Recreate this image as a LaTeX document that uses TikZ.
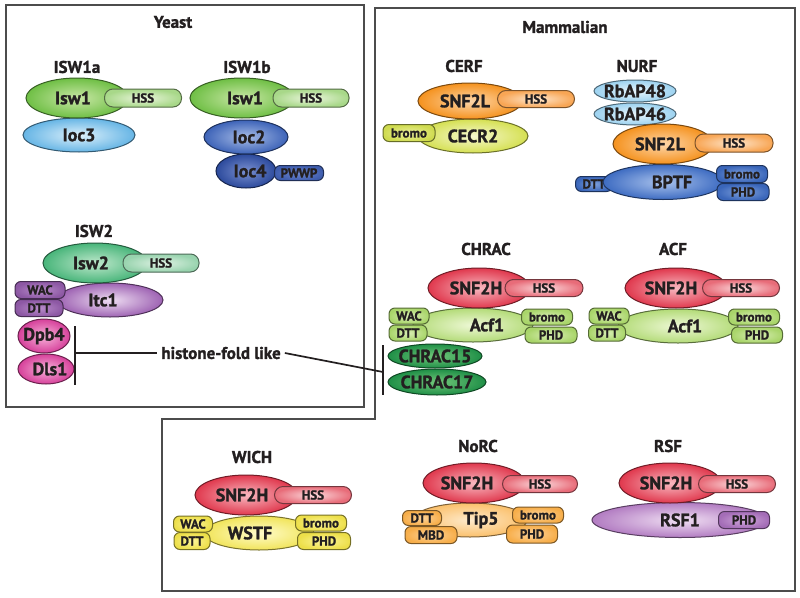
\documentclass[tikz,border=0pt]{standalone}
\usepackage{fontspec}
\setmainfont{PT Sans}[BoldFont={PT Sans Bold}, BoldFeatures={FakeBold=1.4}]
\usetikzlibrary{shapes.geometric}
\newcommand\ft[1]{\fontsize{#1}{#1}\selectfont\bfseries}
\definecolor{txt}{HTML}{231F20}
\definecolor{grnI}{HTML}{C9E7A6}\definecolor{grnO}{HTML}{6FBF45}
\definecolor{hsgI}{HTML}{EAF5DC}\definecolor{hsgO}{HTML}{A8D889}
\definecolor{ltbI}{HTML}{DDF0FB}\definecolor{ltbO}{HTML}{66B5E5}
\definecolor{blbI}{HTML}{A7BCE6}\definecolor{blbO}{HTML}{3D63B8}
\definecolor{bldI}{HTML}{7A90D0}\definecolor{bldO}{HTML}{2C4A9C}
\definecolor{pwI}{HTML}{6D86CC}\definecolor{pwO}{HTML}{3F5DAE}
\definecolor{tlI}{HTML}{BFE8CC}\definecolor{tlO}{HTML}{48B57A}
\definecolor{hstI}{HTML}{DFF2E4}\definecolor{hstO}{HTML}{98D3AE}
\definecolor{puI}{HTML}{EEDDF2}\definecolor{puO}{HTML}{9E63B3}
\definecolor{pudI}{HTML}{B98CCB}\definecolor{pudO}{HTML}{8D58A4}
\definecolor{mgI}{HTML}{F7B3DA}\definecolor{mgO}{HTML}{D6409A}
\definecolor{orI}{HTML}{FDD6AA}\definecolor{orO}{HTML}{F5921E}
\definecolor{hsoI}{HTML}{FEE6CC}\definecolor{hsoO}{HTML}{F8A655}
\definecolor{ygI}{HTML}{F6F8CF}\definecolor{ygO}{HTML}{D5E052}
\definecolor{ygdI}{HTML}{EEF2A0}\definecolor{ygdO}{HTML}{CFDB4F}
\definecolor{rbI}{HTML}{E8F5FC}\definecolor{rbO}{HTML}{9CD2F0}
\definecolor{bpI}{HTML}{A9C2EC}\definecolor{bpO}{HTML}{3E6CC2}
\definecolor{bpdI}{HTML}{7EA0DC}\definecolor{bpdO}{HTML}{3A66BA}
\definecolor{rdI}{HTML}{F8B9C1}\definecolor{rdO}{HTML}{E0384D}
\definecolor{hsrI}{HTML}{FBD9DC}\definecolor{hsrO}{HTML}{E86C79}
\definecolor{lgI}{HTML}{EEF8D6}\definecolor{lgO}{HTML}{B3DB78}
\definecolor{lgdI}{HTML}{D8EEB4}\definecolor{lgdO}{HTML}{A9D56A}
\definecolor{dgI}{HTML}{72C77A}\definecolor{dgO}{HTML}{1F8F47}
\definecolor{yeI}{HTML}{FFFCCB}\definecolor{yeO}{HTML}{F1E45A}
\definecolor{yedI}{HTML}{FCF59A}\definecolor{yedO}{HTML}{EDDF4A}
\definecolor{otI}{HTML}{FEEACB}\definecolor{otO}{HTML}{FBC06B}
\definecolor{otdI}{HTML}{FDD39A}\definecolor{otdO}{HTML}{F7AE4A}
\definecolor{rpI}{HTML}{F0DFF3}\definecolor{rpO}{HTML}{B27CC2}
\definecolor{rpdI}{HTML}{D0A7DC}\definecolor{rpdO}{HTML}{A46DB7}
\tikzset{
  sub/.style={ellipse, inner sep=0pt, line width=1pt},
  dom/.style={rectangle, rounded corners=6pt, inner sep=0pt, line width=1pt, font=\ft{13}, text=txt},
  hss/.style={rounded corners=8.5pt},
  subtxt/.style={font=\ft{18}, inner sep=0pt, text=txt},
  ttl/.style={font=\ft{17}, text=txt},
  bracket/.style={line width=2.8pt, draw=txt},
  lead/.style={line width=1.7pt, draw=txt},
  frame/.style={draw=black!70, line width=1.2pt}
}
% name, x, y, w, h, inner, outer, text, dx
\newcommand\su[9]{\node[sub, minimum width=#4pt, minimum height=#5pt, draw=#7!50!black, inner color=#6, outer color=#7, label={[subtxt,xshift=#9pt]center:#8}] (#1) at (#2,#3) {};}
% [opt] name, x, y, w, h, inner, outer, text
\newcommand\dm[9][]{\node[dom, #1, minimum width=#5pt, minimum height=#6pt, draw=#8!50!black, inner color=#7, outer color=#8] (#2) at (#3,#4) {#9};}
\begin{document}
\begin{tikzpicture}[x=1pt,y=-1pt]
\useasboundingbox (0,0) rectangle (800,597);
\fill[white] (0,0) rectangle (800,597);
% frames
\draw[frame] (6,5) rectangle (364,407);
\draw[frame] (375,8) -- (795,8) -- (795,591) -- (162,591) -- (162,419) -- (375,419) -- cycle;
% titles
\node[ttl] (tYeast) at (173,22) {Yeast};
\node[ttl] (tMam) at (565,27) {Mammalian};
\node[ttl] (tISW1a) at (77,67) {ISW1a};
\node[ttl] (tISW1b) at (247,67) {ISW1b};
\node[ttl] (tISW2) at (94,231) {ISW2};
\node[ttl] (tCERF) at (464,66) {CERF};
\node[ttl] (tNURF) at (637,66) {NURF};
\node[ttl] (tCHRAC) at (486,249) {CHRAC};
\node[ttl] (tACF) at (673,249) {ACF};
\node[ttl] (tWICH) at (252,457) {WICH};
\node[ttl] (tNoRC) at (478,446) {NoRC};
\node[ttl] (tRSF) at (668,446) {RSF};
% ISW1a
\su{loc3}{79}{135}{112}{34}{ltbI}{ltbO}{Ioc3}{0}
\su{isw1a}{77}{98}{102}{40}{grnI}{grnO}{Isw1}{-4}
\dm[hss]{hssA1}{143}{98}{77}{18}{hsgI}{hsgO}{HSS}
% ISW1b
\su{loc4}{246}{171}{60}{34}{bldI}{bldO}{Ioc4}{4}
\dm{pwwp}{299}{173}{49}{15}{pwI}{pwO}{PWWP}
\su{loc2}{246}{137}{84}{34}{blbI}{blbO}{Ioc2}{3}
\su{isw1b}{242}{98}{104}{40}{grnI}{grnO}{Isw1}{3}
\dm[hss]{hssB1}{311}{98}{76}{18}{hsgI}{hsgO}{HSS}
% ISW2
\su{itc1}{110}{300}{106}{34}{puI}{puO}{Itc1}{-7}
\dm{wacY}{40}{290}{50}{17}{pudI}{pudO}{WAC}
\dm{dttY}{39}{308}{48}{17}{pudI}{pudO}{DTT}
\su{isw2}{95}{263}{104}{40}{tlI}{tlO}{Isw2}{-4}
\dm[hss]{hss2}{161}{263}{76}{18}{hstI}{hstO}{HSS}
\su{dpb4}{44}{336}{52}{34}{mgI}{mgO}{Dpb4}{0}
\su{dls1}{46}{369}{56}{30}{mgI}{mgO}{Dls1}{4}
% histone-fold brackets
\coordinate (yb1) at (75,326);
\coordinate (yb2) at (75,385);
\coordinate (ybm) at (75,353);
\coordinate (cb1) at (383,345);
\coordinate (cb2) at (383,395);
\coordinate (cbm) at (383,372);
\draw[bracket] (yb1) -- (yb2);
\draw[bracket] (cb1) -- (cb2);
\node[font=\ft{17}, text=txt, inner sep=4pt] (hfl) at (221,353) {histone-fold like};
\draw[lead] (ybm) -- (hfl.west);
\draw[lead] (hfl.east) -- (cbm);
% CERF
\su{cecr2}{473}{136}{110}{34}{ygI}{ygO}{CECR2}{0}
\dm{bromoCE}{409}{133}{52}{17}{ygdI}{ygdO}{bromo}
\su{snf2lC}{470}{101}{104}{36}{orI}{orO}{SNF2L}{-5}
\dm[hss]{hssCE}{536}{99}{77}{17}{hsoI}{hsoO}{HSS}
% NURF
\su{rbap48}{635}{91}{82}{22}{rbI}{rbO}{RbAP48}{0}
\su{rbap46}{635}{114}{82}{22}{rbI}{rbO}{RbAP46}{0}
\dm{dttNU}{594}{184}{37}{15}{bpdI}{bpdO}{DTT}
\su{bptf}{663}{182}{120}{35}{bpI}{bpO}{BPTF}{9}
\dm{bromoNU}{742}{174}{51}{17}{bpdI}{bpdO}{bromo}
\dm{phdNU}{743}{192}{52}{17}{bpdI}{bpdO}{PHD}
\su{snf2lN}{663}{144}{100}{40}{orI}{orO}{SNF2L}{-3}
\dm[hss]{hssNU}{734}{143}{78}{18}{hsoI}{hsoO}{HSS}
% CHRAC
\su{acf1C}{473}{325}{120}{34}{lgI}{lgO}{Acf1}{14}
\dm{wacCH}{409}{316}{40}{16}{lgdI}{lgdO}{WAC}
\dm{dttCH}{408}{333}{38}{16}{lgdI}{lgdO}{DTT}
\dm{bromoCH}{547}{317}{51}{16}{lgdI}{lgdO}{bromo}
\dm{phdCH}{551}{335}{52}{16}{lgdI}{lgdO}{PHD}
\su{snf2hC}{479}{288}{102}{40}{rdI}{rdO}{SNF2H}{-3}
\dm[hss]{hssCH}{544}{288}{78}{17}{hsrI}{hsrO}{HSS}
\su{chrac15}{435}{356}{94}{24}{dgI}{dgO}{CHRAC15}{0}
\su{chrac17}{437}{382}{98}{26}{dgI}{dgO}{CHRAC17}{0}
% ACF
\su{acf1A}{678}{326}{120}{34}{lgI}{lgO}{Acf1}{7}
\dm{wacAC}{609}{316}{40}{16}{lgdI}{lgdO}{WAC}
\dm{dttAC}{607}{333}{37}{16}{lgdI}{lgdO}{DTT}
\dm{bromoAC}{754}{317}{51}{16}{lgdI}{lgdO}{bromo}
\dm{phdAC}{757}{335}{51}{16}{lgdI}{lgdO}{PHD}
\su{snf2hA}{676}{288}{102}{40}{rdI}{rdO}{SNF2H}{-5}
\dm[hss]{hssAC}{741}{288}{77}{17}{hsrI}{hsrO}{HSS}
% WICH
\su{wstf}{259}{533}{110}{34}{yeI}{yeO}{WSTF}{-9}
\dm{wacWI}{193}{524}{39}{16}{yedI}{yedO}{WAC}
\dm{dttWI}{192}{541}{36}{17}{yedI}{yedO}{DTT}
\dm{bromoWI}{321}{523}{51}{16}{yedI}{yedO}{bromo}
\dm{phdWI}{324}{541}{53}{17}{yedI}{yedO}{PHD}
\su{snf2hW}{246}{495}{102}{40}{rdI}{rdO}{SNF2H}{-4}
\dm[hss]{hssWI}{313}{495}{77}{17}{hsrI}{hsrO}{HSS}
% NoRC
\su{tip5}{470}{520}{114}{34}{otI}{otO}{Tip5}{11}
\dm{dttNO}{422}{518}{39}{15}{otdI}{otdO}{DTT}
\dm{mbd}{431}{535}{52}{17}{otdI}{otdO}{MBD}
\dm{bromoNO}{538}{515}{51}{16}{otdI}{otdO}{bromo}
\dm{phdNO}{532}{534}{51}{18}{otdI}{otdO}{PHD}
\su{snf2hN}{474}{483}{102}{40}{rdI}{rdO}{SNF2H}{-7}
\dm[hss]{hssNO}{540}{484}{75}{17}{hsrI}{hsrO}{HSS}
% RSF
\su{rsf1}{680}{520}{176}{35}{rpI}{rpO}{RSF1}{0}
\dm{phdRS}{744}{520}{51}{17}{rpdI}{rpdO}{PHD}
\su{snf2hR}{670}{483}{102}{40}{rdI}{rdO}{SNF2H}{-4}
\dm[hss]{hssRS}{737}{484}{77}{17}{hsrI}{hsrO}{HSS}
\end{tikzpicture}
\end{document}
